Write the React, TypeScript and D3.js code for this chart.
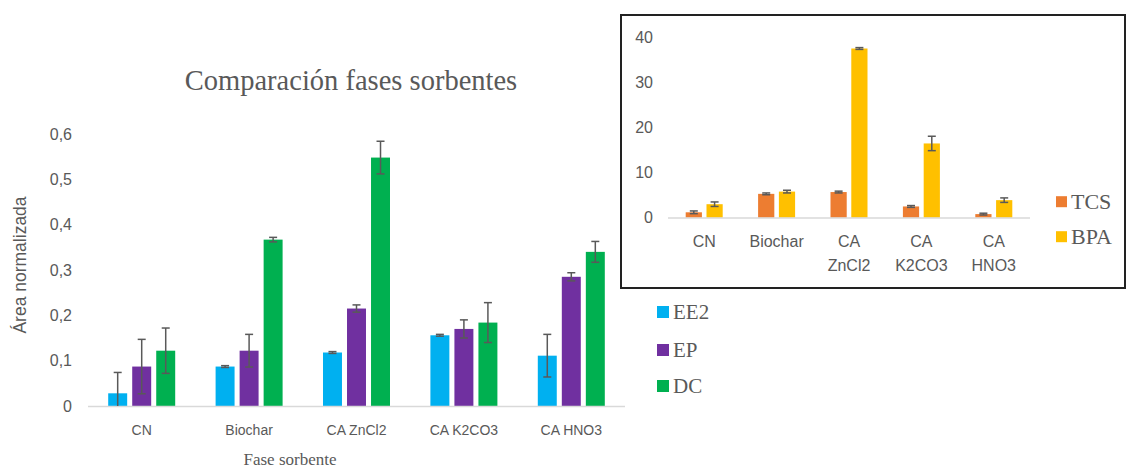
import React from "react";
import * as d3 from "d3";

const categories = ["CN", "Biochar", "CA ZnCl2", "CA K2CO3", "CA HNO3"];
const series = ["EE2", "EP", "DC"];
const ee2 = [0.028, 0.087, 0.118, 0.156, 0.111];
const ep = [0.087, 0.122, 0.215, 0.17, 0.285];
const dc = [0.122, 0.367, 0.548, 0.184, 0.34];
const ee2Err = [0.046, 0.002, 0.002, 0.002, 0.047];
const epErr = [0.06, 0.036, 0.008, 0.02, 0.009];
const dcErr = [0.05, 0.005, 0.036, 0.044, 0.023];
const yTicks = [0, 0.1, 0.2, 0.3, 0.4, 0.5, 0.6];

const insetCategories = ["CN", "Biochar", "CA ZnCl2", "CA K2CO3", "CA HNO3"];
const insetLabelLines = [["CN"], ["Biochar"], ["CA", "ZnCl2"], ["CA", "K2CO3"], ["CA", "HNO3"]];
const insetSeries = ["TCS", "BPA"];
const tcs = [1.2, 5.3, 5.7, 2.5, 0.8];
const bpa = [3.0, 5.8, 37.6, 16.5, 3.9];
const tcsErr = [0.3, 0.2, 0.2, 0.2, 0.2];
const bpaErr = [0.5, 0.3, 0.2, 1.6, 0.5];
const insetTicks = [0, 10, 20, 30, 40];

const mainColors = ["#00B0F0", "#7030A0", "#00B050"];
const insetColors = ["#ED7D31", "#FFC000"];
const textGray = "#595959";
const sans = "'Liberation Sans', Arial, sans-serif";
const serif = "'Liberation Serif', 'Times New Roman', serif";

function ErrorBar({ x, yTop, yBot, showBot, cap }: any) {
  return (
    <g stroke="#595959" strokeWidth={1.5}>
      <line x1={x} x2={x} y1={yTop} y2={yBot} />
      <line x1={x - cap} x2={x + cap} y1={yTop} y2={yTop} />
      {showBot && <line x1={x - cap} x2={x + cap} y1={yBot} y2={yBot} />}
    </g>
  );
}

export default function App() {
  // main chart
  const x = d3.scaleBand().domain(categories).range([88, 625]);
  const xs = d3.scaleBand().domain(series).range([0, 67]).paddingInner(0.21);
  const y = d3.scaleLinear().domain([0, 0.6]).range([406, 134]);
  const vals = [ee2, ep, dc];
  const errs = [ee2Err, epErr, dcErr];

  // inset
  const xi = d3.scaleBand().domain(insetCategories).range([668, 1030]);
  const xis = d3.scaleBand().domain(insetSeries).range([0, 37]).paddingInner(0.22);
  const yi = d3.scaleLinear().domain([0, 40]).range([217.7, 37.7]);
  const ivals = [tcs, bpa];
  const ierrs = [tcsErr, bpaErr];

  return (
    <svg width={1128} height={468} style={{ position: "absolute", left: 0, top: 0, background: "#fff" }}>
      <rect x={0} y={0} width={1128} height={468} fill="#fff" />
      {/* title */}
      <text x={351} y={90} textAnchor="middle" fontFamily={serif} fontSize={28.5} fill={textGray}>
        Comparación fases sorbentes
      </text>
      {/* y ticks */}
      {yTicks.map((t) => (
        <text key={t} x={72} y={y(t)} dy="0.35em" textAnchor="end" fontFamily={sans} fontSize={16} fill={textGray}>
          {String(t).replace(".", ",")}
        </text>
      ))}
      <text transform={`translate(26,265) rotate(-90)`} textAnchor="middle" fontFamily={sans} fontSize={17.5} fill={textGray}>
        Área normalizada
      </text>
      {/* bars */}
      {categories.map((c, i) => (
        <g key={c}>
          {series.map((s, j) => {
            const bx = (x(c) as number) + (x.bandwidth() - 67) / 2 + (xs(s) as number);
            const v = vals[j][i];
            return (
              <rect key={s} x={bx} y={y(v)} width={xs.bandwidth()} height={y(0) - y(v)} fill={mainColors[j]} />
            );
          })}
        </g>
      ))}
      <line x1={88} x2={625} y1={406.5} y2={406.5} stroke="#D9D9D9" strokeWidth={1.5} />
      {categories.map((c, i) => (
        <g key={c + "e"}>
          {series.map((s, j) => {
            const cx = (x(c) as number) + (x.bandwidth() - 67) / 2 + (xs(s) as number) + xs.bandwidth() / 2;
            const v = vals[j][i];
            const e = errs[j][i];
            const lo = Math.max(0, v - e);
            return (
              <ErrorBar key={s} x={cx} yTop={y(v + e)} yBot={y(lo)} showBot={v - e >= 0} cap={4} />
            );
          })}
          <text x={(x(c) as number) + x.bandwidth() / 2} y={435} textAnchor="middle" fontFamily={sans} fontSize={14} fill={textGray}>
            {c}
          </text>
        </g>
      ))}
      <text x={290} y={465} textAnchor="middle" fontFamily={serif} fontSize={17} fill={textGray}>
        Fase sorbente
      </text>
      {/* main legend */}
      {series.map((s, j) => (
        <g key={s}>
          <rect x={657} y={[312, 350, 386][j] - 6} width={12} height={12} fill={mainColors[j]} />
          <text x={673} y={[312, 350, 386][j]} dy="0.35em" fontFamily={serif} fontSize={21} fill={textGray}>
            {s}
          </text>
        </g>
      ))}

      {/* inset */}
      <rect x={621} y={15} width={504} height={273} fill="#fff" stroke="#222" strokeWidth={2} />
      {insetTicks.map((t) => (
        <text key={t} x={653} y={yi(t)} dy="0.35em" textAnchor="end" fontFamily={sans} fontSize={16} fill={textGray}>
          {t}
        </text>
      ))}
      {insetCategories.map((c, i) => (
        <g key={c}>
          {insetSeries.map((s, j) => {
            const bx = (xi(c) as number) + (xi.bandwidth() - 37) / 2 + (xis(s) as number);
            const v = ivals[j][i];
            return <rect key={s} x={bx} y={yi(v)} width={xis.bandwidth()} height={yi(0) - yi(v)} fill={insetColors[j]} />;
          })}
        </g>
      ))}
      <line x1={668} x2={1030} y1={218} y2={218} stroke="#D9D9D9" strokeWidth={1.5} />
      {insetCategories.map((c, i) => (
        <g key={c + "e"}>
          {insetSeries.map((s, j) => {
            const cx = (xi(c) as number) + (xi.bandwidth() - 37) / 2 + (xis(s) as number) + xis.bandwidth() / 2;
            const v = ivals[j][i];
            const e = ierrs[j][i];
            return <ErrorBar key={s} x={cx} yTop={yi(v + e)} yBot={yi(Math.max(0, v - e))} showBot={true} cap={4} />;
          })}
          {insetLabelLines[i].map((ln, k) => (
            <text key={k} x={(xi(c) as number) + xi.bandwidth() / 2} y={246.5 + k * 24} textAnchor="middle" fontFamily={sans} fontSize={16} fill={textGray}>
              {ln}
            </text>
          ))}
        </g>
      ))}
      {insetSeries.map((s, j) => (
        <g key={s}>
          <rect x={1056} y={[201.7, 236.7][j] - 5.5} width={11} height={11} fill={insetColors[j]} />
          <text x={1071} y={[201.7, 236.7][j]} dy="0.35em" fontFamily={serif} fontSize={22} fill={textGray}>
            {s}
          </text>
        </g>
      ))}
    </svg>
  );
}
